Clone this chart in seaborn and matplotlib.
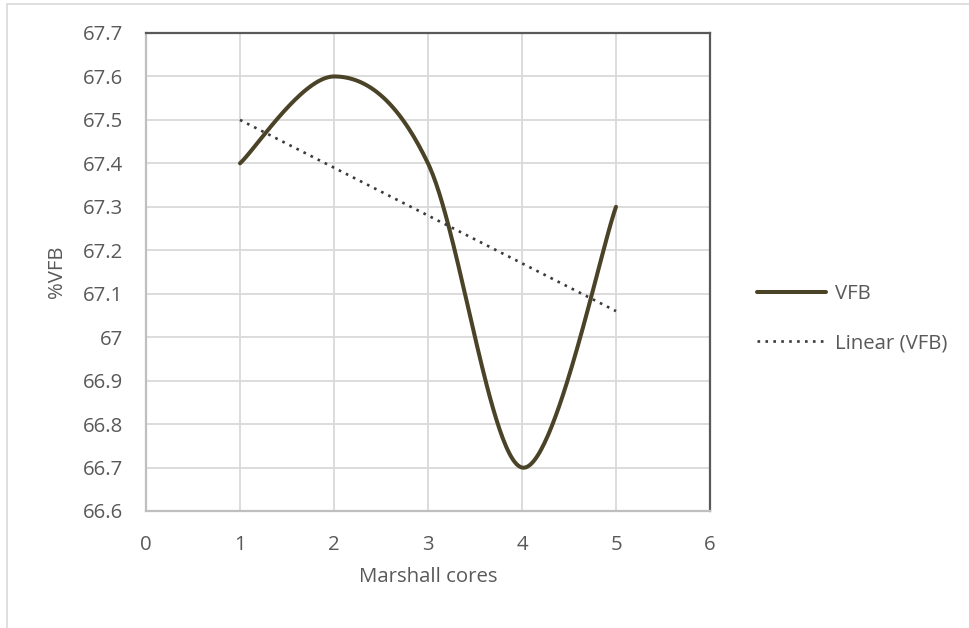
import numpy as np
import pandas as pd
import matplotlib
matplotlib.use("Agg")
import matplotlib.pyplot as plt
import seaborn as sns
from matplotlib.lines import Line2D

# ---- data ----
cores = [1, 2, 3, 4, 5]
vfb = [67.4, 67.6, 67.4, 66.7, 67.3]
x_ticks = [0, 1, 2, 3, 4, 5, 6]
y_ticks = [66.6, 66.7, 66.8, 66.9, 67.0, 67.1, 67.2, 67.3, 67.4, 67.5, 67.6, 67.7]
series_label = "VFB"
trend_label = "Linear (VFB)"

sns.set_theme(style="white")
plt.rcParams['font.family'] = ['Open Sans', 'DejaVu Sans']

LINE_C = '#4b4327'
TXT_C = '#595959'
GRID_C = '#d9d9d9'
FS = 14.7


def smooth_curve(xs, ys, n=60):
    """Excel-style smoothed line (Catmull-Rom Bezier through the points)."""
    P = np.column_stack([xs, ys]).astype(float)
    out = []
    for i in range(len(P) - 1):
        p0 = P[i - 1] if i > 0 else P[i]
        p1 = P[i]
        p2 = P[i + 1]
        p3 = P[i + 2] if i + 2 < len(P) else P[i + 1]
        c1 = p1 + (p2 - p0) / 6.0
        c2 = p2 - (p3 - p1) / 6.0
        t = np.linspace(0, 1, n)[:, None]
        seg = ((1 - t) ** 3) * p1 + 3 * ((1 - t) ** 2) * t * c1 + 3 * (1 - t) * t ** 2 * c2 + t ** 3 * p2
        out.append(seg if i == 0 else seg[1:])
    return np.vstack(out)


curve = smooth_curve(cores, vfb)
df_curve = pd.DataFrame({"x": curve[:, 0], "y": curve[:, 1]})

slope, intercept = np.polyfit(cores, vfb, 1)
df_trend = pd.DataFrame({"x": [cores[0], cores[-1]],
                         "y": [intercept + slope * cores[0], intercept + slope * cores[-1]]})

fig = plt.figure(figsize=(9.7, 6.28), dpi=100)
ax = fig.add_axes([146 / 970, 1 - 511 / 628, 564 / 970, 478 / 628])

sns.lineplot(data=df_curve, x="x", y="y", sort=False, ax=ax, color=LINE_C,
             linewidth=2.9, estimator=None, solid_capstyle='round', zorder=3)
sns.lineplot(data=df_trend, x="x", y="y", sort=False, ax=ax, color='#3a3a3a',
             linewidth=1.9, estimator=None, linestyle=(0, (1, 2)), zorder=4)

ax.set_xlim(0, 6)
ax.set_ylim(66.6, 67.7)
ax.set_xticks(x_ticks)
ax.set_yticks(y_ticks)
ax.set_xticklabels([str(v) for v in x_ticks])
ax.set_yticklabels([f"{round(v, 1):g}" for v in y_ticks])
ax.tick_params(axis='both', length=0, labelsize=FS, labelcolor=TXT_C)
ax.tick_params(axis='x', pad=17)
ax.tick_params(axis='y', pad=16.5)
ax.grid(True, color=GRID_C, linewidth=1.3)
ax.set_axisbelow(True)

for s in ['top', 'right']:
    ax.spines[s].set_color('#595959')
    ax.spines[s].set_linewidth(1.6)
for s in ['left', 'bottom']:
    ax.spines[s].set_color('#bfbfbf')
    ax.spines[s].set_linewidth(1.6)

ax.set_xlabel("Marshall cores", fontsize=FS, color=TXT_C)
ax.set_ylabel("%VFB", fontsize=FS, color=TXT_C)
ax.xaxis.set_label_coords(0.5, -(577 - 511) / 478)
ax.yaxis.set_label_coords(-(146 - 57) / 564, 0.5)
ax.xaxis.label.set_va('center')
ax.yaxis.label.set_va('center')

handles = [Line2D([], [], color=LINE_C, linewidth=2.9),
           Line2D([], [], color='#3a3a3a', linewidth=1.9, linestyle=(0, (1, 2)))]
fig.legend(handles, [series_label, trend_label], loc='center left',
           bbox_to_anchor=(757 / 970, 1 - 318.5 / 628), frameon=False,
           fontsize=FS, labelcolor=TXT_C, handlelength=3.4, handletextpad=0.4,
           labelspacing=1.45, borderpad=0, borderaxespad=0)

# chart-area border (left and top visible)
fig.add_artist(Line2D([7 / 970, 7 / 970], [0, 1 - 4 / 628], transform=fig.transFigure,
                      color=GRID_C, linewidth=1.2))
fig.add_artist(Line2D([7 / 970, 1], [1 - 4 / 628, 1 - 4 / 628], transform=fig.transFigure,
                      color=GRID_C, linewidth=1.2))

fig.savefig("out.png", dpi=100)
